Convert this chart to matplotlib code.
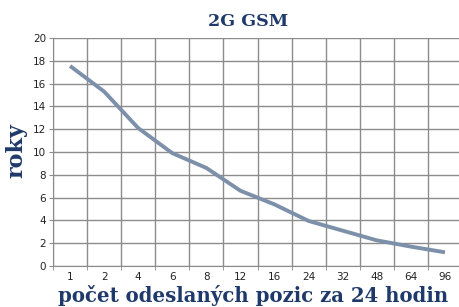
import numpy as np
import matplotlib
matplotlib.use('Agg')
import matplotlib.pyplot as plt

# data
categories = ['1', '2', '4', '6', '8', '12', '16', '24', '32', '48', '64', '96']
years = [17.55, 15.3, 12.1, 9.9, 8.6, 6.6, 5.4, 3.95, 3.1, 2.25, 1.7, 1.2]
y_ticks = [0, 2, 4, 6, 8, 10, 12, 14, 16, 18, 20]

navy = '#1F3A6A'
line_col = '#7D90AA'
grid_col = '#8C8C8C'
slab = ['DejaVu Serif', 'Liberation Serif']

fig = plt.figure(figsize=(4.6, 3.07), dpi=100)
ax = fig.add_axes([53/460, 41/307, 409/460, 228/307])

x = np.arange(len(categories))
ax.plot(x, years, color=line_col, lw=2.8, solid_capstyle='butt', zorder=3)

ax.set_xlim(-0.5, len(categories) - 0.5)
ax.set_ylim(0, 20)

# category labels at centres, grid + tick marks at boundaries
ax.set_xticks(x)
ax.set_xticklabels(categories, fontsize=7.5, color='#222222')
ax.set_xticks(np.arange(len(categories) + 1) - 0.5, minor=True)
ax.tick_params(axis='x', which='major', length=0, pad=4.5)
ax.tick_params(axis='x', which='minor', length=3, color=grid_col)
ax.set_yticks(y_ticks)
ax.set_yticklabels([str(v) for v in y_ticks], fontsize=7.5, color='#222222')
ax.tick_params(axis='y', length=3, color=grid_col, pad=2)

ax.grid(True, which='minor', axis='x', color=grid_col, lw=1)
ax.grid(True, which='major', axis='y', color=grid_col, lw=1)
for s in ax.spines.values():
    s.set_visible(False)
ax.spines['left'].set_visible(True)
ax.spines['left'].set_color(grid_col)
ax.spines['bottom'].set_visible(True)
ax.spines['bottom'].set_color(grid_col)

fig.text(248/460, 1 - 21.5/307, '2G GSM', family=slab, fontweight='bold',
         fontsize=12.6, color=navy, ha='center', va='center')
fig.text(253/460, 1 - 295.5/307, 'počet odeslaných pozic za 24 hodin', family=slab,
         fontweight='bold', fontsize=14.2, color=navy, ha='center', va='center')
fig.text(16/460, 1 - 151/307, 'roky', family=slab, fontweight='bold',
         fontsize=16, color=navy, ha='center', va='center', rotation=90)

fig.savefig('out.png', dpi=100)
